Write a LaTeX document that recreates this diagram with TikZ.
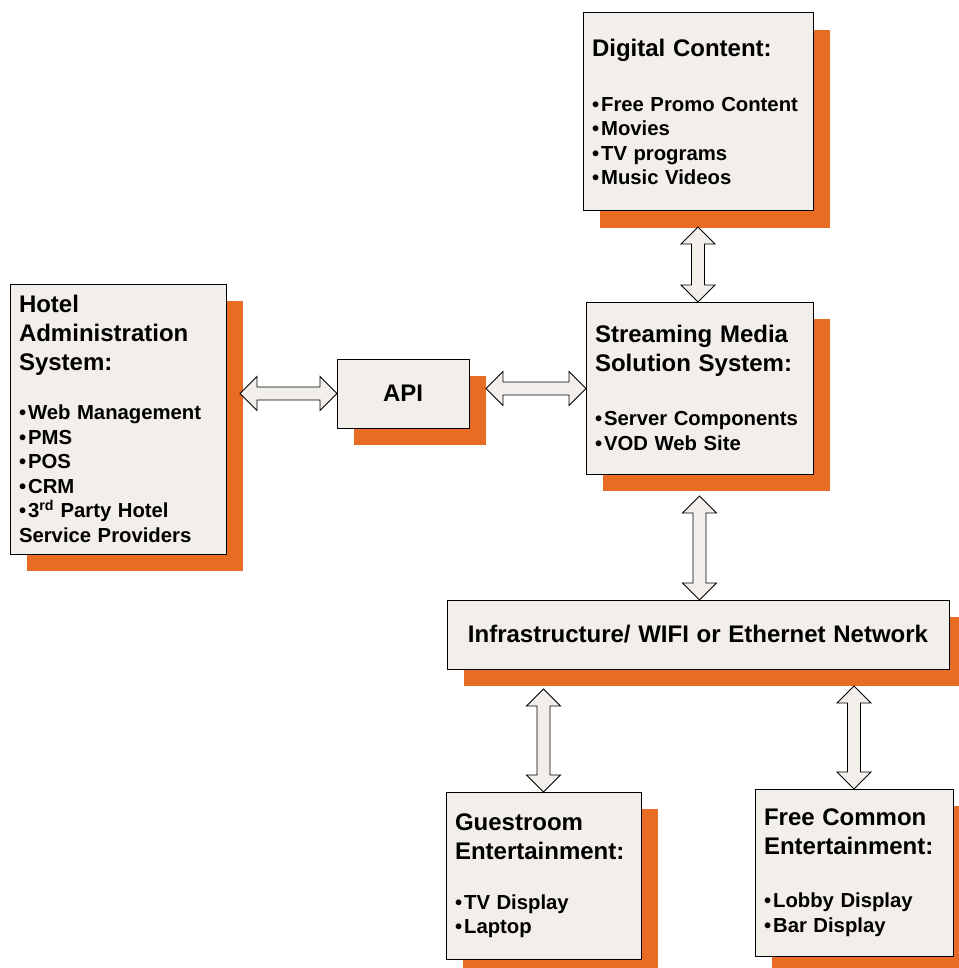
\documentclass[tikz,border=0pt]{standalone}
\usepackage{fontspec}
\setmainfont{Liberation Sans}
\usetikzlibrary{calc,shadows}

\definecolor{panelfill}{HTML}{F2EEE9}
\definecolor{shadeorange}{HTML}{E86C24}

\newcommand{\hd}[1]{{\fontsize{24}{29}\selectfont\spaceskip=0.32em\relax #1\par}}
\newcommand{\blist}[1]{{\fontsize{20.3}{24.5}\selectfont\spaceskip=0.32em\relax #1\par}}
\newcommand{\bl}{•\kern2pt}

\tikzset{
  panel/.style={rectangle,draw=black,line width=1pt,fill=panelfill,
    general shadow={fill=shadeorange,draw=none,shadow xshift=17pt,shadow yshift=-17pt},
    anchor=north west,inner xsep=9pt,inner ysep=0pt,outer sep=0pt,align=left,font=\bfseries},
  dblarrow/.style={draw=black,line width=0.9pt,fill=panelfill,line join=miter},
  hbi/.style={to path={-- ++(17pt,17pt) -- ($(\tikztostart)+(17pt,6.5pt)$)
    -- ($(\tikztotarget)+(-17pt,6.5pt)$) -- ++(0pt,10.5pt) -- (\tikztotarget)
    -- ++(-17pt,-17pt) -- ++(0pt,10.5pt) -- ($(\tikztostart)+(17pt,-6.5pt)$)
    -- ++(0pt,-10.5pt) -- cycle}},
  vbi/.style={to path={-- ++(-17pt,-17pt) -- ($(\tikztostart)+(-6.5pt,-17pt)$)
    -- ($(\tikztotarget)+(-6.5pt,17pt)$) -- ++(-10.5pt,0pt) -- (\tikztotarget)
    -- ++(17pt,17pt) -- ++(-10.5pt,0pt) -- ($(\tikztostart)+(6.5pt,-17pt)$)
    -- ++(10.5pt,0pt) -- cycle}}
}

\begin{document}
\begin{tikzpicture}[x=1pt,y=-1pt]
\useasboundingbox (0,0) rectangle (958,968);
\path
  (583,13) node(dig) [panel,text width=212pt,minimum height=198pt]
    {\hd{Digital Content:}\vspace{30.5pt}\blist{\bl Free Promo Content\\\bl Movies\\\bl TV programs\\\bl Music Videos}}
  (10,284) node(hotel) [panel,text width=198pt,minimum height=270pt]
    {\hd{Hotel\\Administration\\System:}\vspace{24.5pt}\blist{\bl Web Management\\\bl PMS\\\bl POS\\\bl CRM\\\bl 3\textsuperscript{rd} Party Hotel\\Service Providers}}
  (337,359) node(api) [panel,align=center,text width=114pt,minimum height=69pt] {\hd{API}}
  (586,302) node(stream) [panel,text width=209pt,minimum height=172pt]
    {\hd{Streaming Media\\Solution System:}\vspace{29.5pt}\blist{\bl Server Components\\\bl VOD Web Site}}
  (447,600) node(infra) [panel,align=center,text width=484pt,minimum height=69pt]
    {\hd{Infrastructure/ WIFI or Ethernet Network}}
  (446,792) node(guest) [panel,text width=177pt,minimum height=167pt]
    {\hd{Guestroom\\Entertainment:}\vspace{25.5pt}\blist{\bl TV Display\\\bl Laptop}}
  (755,789) node(free) [panel,text width=180pt,minimum height=167pt]
    {\hd{Free Common\\Entertainment:}\vspace{28.5pt}\blist{\bl Lobby Display\\\bl Bar Display}};
% double block arrows
\draw[dblarrow] ($(hotel.east |- api.west)+(14pt,0pt)$) to[hbi] (api.west);
\draw[dblarrow] ($(api.east)+(17pt,5pt)$) to[hbi] ($(api.east -| stream.west)+(0pt,5pt)$);
\draw[dblarrow] ($(dig.south)+(0pt,-16pt)$) to[vbi] (dig.south |- stream.north);
\draw[dblarrow] ($(stream.south)+(0pt,-22pt)$) to[vbi] (stream.south |- infra.north);
\draw[dblarrow] ($(guest.north |- infra.south)+(0pt,-20pt)$) to[vbi] (guest.north);
\draw[dblarrow] ($(free.north |- infra.south)+(0pt,-17pt)$) to[vbi] (free.north);
\end{tikzpicture}
\end{document}
